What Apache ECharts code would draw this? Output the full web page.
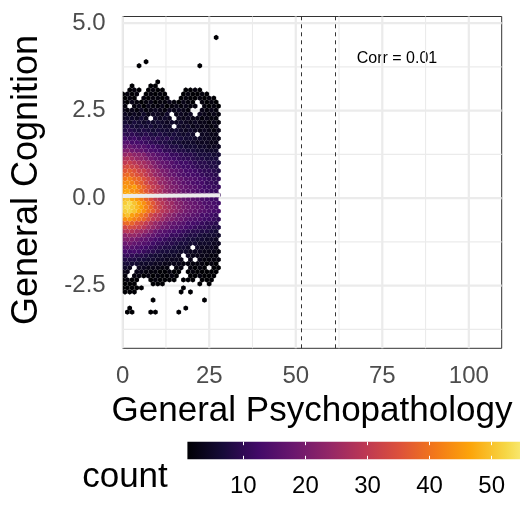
<!DOCTYPE html>
<html>
<head>
<meta charset="utf-8">
<script src="https://cdn.jsdelivr.net/npm/echarts@6/dist/echarts.min.js"></script>
<style>
  html, body { margin: 0; padding: 0; background: #fff; }
  #main { width: 520px; height: 520px; }
</style>
</head>
<body>
<div id="main"></div>
<script>
// hex grid: row r is centred at y = rowTop - r * rowStep, odd rows shifted half a column
var rowTop = 4.59, rowStep = 0.1154, colStep = 1.35;
// one character per hex, its index in countKey is the count ('.' = empty)
var countKey = '0123456789abcdefghijklmnopqrstuvwxyzABCDEFGHIJKLMNOPQRSTUVW';
var hexRows = [
  '....................1',
  '.....................',
  '.....................',
  '.....................',
  '.....................',
  '.....................',
  '.....1...............',
  '...1............1....',
  '.....................',
  '.....................',
  '.....................',
  '.......1.............',
  '..1...11.............',
  '.121.1211....1121....',
  '1212.12121...121121..',
  '121.212212..12112121.',
  '2132123122321321.2121',
  '2.23132231232322.2121',
  '323242343243432..3232',
  '4343534435.3434.43232',
  '455464.5454.434332322',
  '657656565454543433232',
  '78767675655.545343323',
  '898787676656545434323',
  'a9a9898787676565.4433',
  'cbcaba9a8987766554433',
  'efddcba98876655544433',
  'higffdcba988766655444',
  'kljihfedcaa9887766555',
  'opnmlihfedbba99877766',
  'rsqonljhgedcbaa988777',
  'uvtrqoljhgfdccba99887',
  'xywvsqoljhgeeccba9988',
  'ABzwvspnkjhgfddcbaa98',
  'CDBzxuromkihfeddcbaa9',
  'FGDCzwtqolkihffedcbaa',
  'HIGDBxusonljigfeddbba',
  'JIKFCzvtqnlkihgfeccbb',
  'KLIHDAwtromkjhgfedcbb',
  'LMKHEBxurpmljihffeccb',
  'NOLJGCzvsqnmkihgfedcc',
  'PROLIEAwtqpmljihgeedc',
  'QRPNKGCyvsqomkjihgeed',
  'PQOLIEBxtrpnljihgfedd',
  'MOKIFCxuspnljihgfddcb',
  'IJGECyuspmljigfeeccba',
  'CDCzxuromkihgfddcbaa9',
  'xyxvtqomjigfedcbaa988',
  'stsqpnligfedcba998876',
  'noomkihfedbba98876665',
  'llkjhgfdcba9987766554',
  'ijhgfecba998776655544',
  'fgfedcba9887665.54443',
  'dcdcba987766554443332',
  'aba9987665554.4333322',
  '8887766554443.3.32222',
  '676655544333322222121',
  '54.4433322.22.2121.11',
  '33.3322211211.1211111',
  '2.2212121121..112111.',
  '1211..121111.111.111.',
  '111...111.......1.1..',
  '11111........1.......',
  '111.........1.1......',
  '.....................',
  '......1..........1...',
  '.....................',
  '.1...........1.......',
  '.11...11....1........'
];

var xTicks = [0, 25, 50, 75, 100];
var xMinor = [12.5, 37.5, 62.5, 87.5];
var yTicks = [-2.5, 0, 2.5, 5];
var yMinor = [-3.75, -1.25, 1.25, 3.75];
var fitX = [0, 28.2];
var fitY = [0.06, 0.08];
var cutoffs = [51.5, 61.4];
var countTicks = [10, 20, 30, 40, 50];
var countRange = [1, 58];
var corrLabel = 'Corr = 0.01';

var inferno = ['#000004', '#160b39', '#420a68', '#6a176e', '#932667', '#bc3754',
               '#dd513a', '#f37819', '#fca50a', '#f6d746', '#fcffa4'];
var font = 'Liberation Sans, Arial, sans-serif';

var hexData = [];
hexRows.forEach(function (row, r) {
  for (var c = 0; c < row.length; c++) {
    var n = countKey.indexOf(row[c]);
    if (n > 0) hexData.push([(c + (r % 2) * 0.5) * colStep, rowTop - r * rowStep, n]);
  }
});

var gridData = [];
xTicks.forEach(function (v) { gridData.push([v, 0, 0, 1]); });
xMinor.forEach(function (v) { gridData.push([v, 0, 0, 0]); });
yTicks.forEach(function (v) { gridData.push([0, v, 1, 1]); });
yMinor.forEach(function (v) { gridData.push([0, v, 1, 0]); });

function renderGridLine(params, api) {
  var cs = params.coordSys;
  var p = api.coord([api.value(0), api.value(1)]);
  var shape = api.value(2) === 0
    ? { x1: p[0], y1: cs.y, x2: p[0], y2: cs.y + cs.height }
    : { x1: cs.x, y1: p[1], x2: cs.x + cs.width, y2: p[1] };
  return {
    type: 'line',
    shape: shape,
    style: { stroke: '#ebebeb', lineWidth: api.value(3) ? 2.2 : 1.1 }
  };
}

function renderHex(params, api) {
  var c = api.coord([api.value(0), api.value(1)]);
  var hw = api.size([colStep, 0])[0] / 2;
  var rr = api.size([0, rowStep])[1] * 2 / 3;
  var pts = [
    [c[0], c[1] - rr], [c[0] + hw, c[1] - rr / 2], [c[0] + hw, c[1] + rr / 2],
    [c[0], c[1] + rr], [c[0] - hw, c[1] + rr / 2], [c[0] - hw, c[1] - rr / 2]
  ];
  return {
    type: 'polygon',
    shape: { points: echarts.graphic.clipPointsByRect(pts, params.coordSys) },
    style: { fill: api.visual('color') }
  };
}

// the legend bar runs past the right edge of the picture, as in the original
function renderColorbar(params, api) {
  var a = api.coord([api.value(0), 1]);
  var b = api.coord([api.value(1), 0]);
  var stops = inferno.map(function (col, i) {
    return { offset: i / (inferno.length - 1), color: col };
  });
  return {
    type: 'rect',
    shape: { x: a[0], y: a[1], width: b[0] - a[0], height: b[1] - a[1] },
    style: { fill: new echarts.graphic.LinearGradient(0, 0, 1, 0, stops) }
  };
}

var chart = echarts.init(document.getElementById('main'));

var option = {
  animation: false,
  backgroundColor: '#fff',
  grid: [
    { left: 122.7, top: 16.5, width: 379, height: 331.8, show: true,
      borderColor: '#333333', borderWidth: 1, backgroundColor: '#fff' },
    { left: 181.2, top: 441.7, width: 338.8, height: 17.6 }
  ],
  xAxis: [
    {
      type: 'value', gridIndex: 0, min: 0, max: 109.5,
      axisLine: { show: false }, axisTick: { show: false }, splitLine: { show: false },
      axisLabel: { customValues: xTicks, fontSize: 24, fontFamily: font, color: '#4d4d4d', margin: 16 }
    },
    {
      type: 'value', gridIndex: 1, min: 0, max: 54.56, position: 'bottom', z: 5,
      axisLine: { show: false }, splitLine: { show: false },
      axisTick: { customValues: countTicks, inside: true, length: 3.5, lineStyle: { color: '#fff', width: 1 } },
      axisLabel: { customValues: countTicks, fontSize: 24, fontFamily: font, color: '#000', margin: 15 }
    },
    {
      type: 'value', gridIndex: 1, min: 0, max: 54.56, position: 'top', z: 5,
      axisLine: { show: false }, splitLine: { show: false }, axisLabel: { show: false },
      axisTick: { customValues: countTicks, inside: true, length: 3.5, lineStyle: { color: '#fff', width: 1 } }
    }
  ],
  yAxis: [
    {
      type: 'value', gridIndex: 0, min: -4.29, max: 5.19,
      axisLine: { show: false }, axisTick: { show: false }, splitLine: { show: false },
      axisLabel: {
        customValues: yTicks, fontSize: 24, fontFamily: font, color: '#4d4d4d', margin: 17,
        formatter: function (v) { return v.toFixed(1); }
      }
    },
    { type: 'value', gridIndex: 1, min: 0, max: 1, show: false }
  ],
  visualMap: {
    type: 'continuous', show: false, seriesIndex: 1, dimension: 2,
    min: countRange[0], max: countRange[1],
    inRange: { color: inferno }
  },
  series: [
    {
      type: 'custom', xAxisIndex: 0, yAxisIndex: 0, z: 1, silent: true,
      renderItem: renderGridLine, data: gridData
    },
    {
      type: 'custom', xAxisIndex: 0, yAxisIndex: 0, z: 2, silent: true,
      renderItem: renderHex, data: hexData
    },
    {
      type: 'line', xAxisIndex: 0, yAxisIndex: 0, z: 4, silent: true,
      data: fitX.map(function (x, i) { return [x, fitY[i]]; }),
      showSymbol: false,
      lineStyle: { color: '#ebebeb', width: 4 },
      markLine: {
        silent: true, symbol: 'none', label: { show: false },
        lineStyle: { color: '#333333', width: 1, type: [4, 4] },
        data: cutoffs.map(function (v) { return { xAxis: v }; })
      }
    },
    {
      type: 'custom', xAxisIndex: 1, yAxisIndex: 1, z: 1, silent: true,
      renderItem: renderColorbar, data: [[countRange[0], countRange[1]]]
    }
  ],
  graphic: [
    { type: 'text', x: 312, y: 411, style: { text: 'General Psychopathology', fontSize: 35, fontFamily: font, fill: '#000', align: 'center', verticalAlign: 'middle' } },
    { type: 'text', x: 27, y: 180, rotation: Math.PI / 2, style: { text: 'General Cognition', fontSize: 36, fontFamily: font, fill: '#000', align: 'center', verticalAlign: 'middle' } },
    { type: 'text', x: 125, y: 477, style: { text: 'count', fontSize: 35, fontFamily: font, fill: '#000', align: 'center', verticalAlign: 'middle' } },
    { type: 'text', x: 397, y: 58.5, style: { text: corrLabel, fontSize: 16, fontFamily: font, fill: '#000', align: 'center', verticalAlign: 'middle' } }
  ]
};

chart.setOption(option);
</script>
</body>
</html>
